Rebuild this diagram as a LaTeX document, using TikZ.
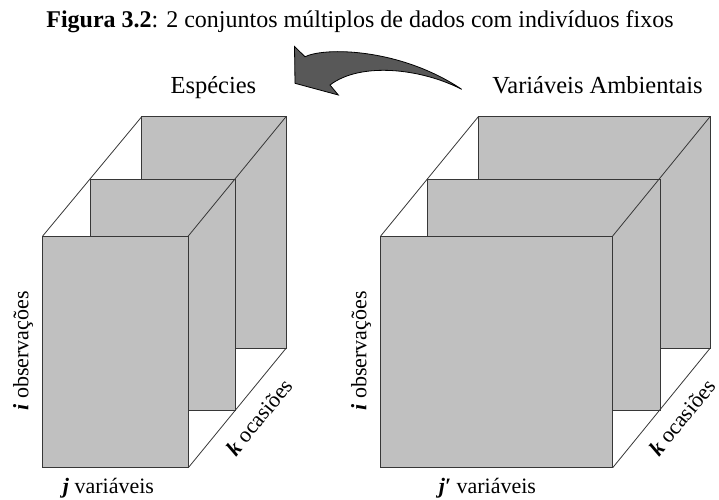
\documentclass[tikz,border=0pt]{standalone}
\usepackage{fontspec}
\setmainfont{Liberation Serif}
\definecolor{boxgray}{RGB}{192,192,192}
\definecolor{arrowgray}{RGB}{88,88,88}
\definecolor{edgegray}{RGB}{55,55,55}
\begin{document}
\begin{tikzpicture}[x=1pt,y=-1pt,
  panel/.style={fill=boxgray,draw=edgegray,line width=0.8pt},
  edge/.style={draw=edgegray,line width=0.8pt},
  lbl/.style={inner sep=0pt,font=\fontsize{22}{26}\selectfont},
  head/.style={inner sep=0pt,font=\fontsize{24.5}{28}\selectfont},
  ttl/.style={inner sep=0pt,font=\fontsize{24}{28}\selectfont},
  bigarrow/.style={fill=arrowgray,draw=black,line width=0.8pt,line join=miter}]
\useasboundingbox (0,0) rectangle (719,499);

% title
\node[ttl,anchor=base] (title) at (360,27.3) {\textbf{Figura 3.2}: 2 conjuntos múltiplos de dados com indivíduos fixos};

% headings
\node[head,anchor=base] (esp) at (213.4,93.3) {Espécies};
\node[head,anchor=base] (amb) at (597.5,93.3) {Variáveis Ambientais};

% curved arrow
\draw[bigarrow] (294.5,46.5) -- (305,56.7)
  .. controls (325,47) and (400,48) .. (461.7,89.3)
  .. controls (420,68) and (360,62) .. (330,85)
  -- (338.3,95) -- (295,83.3) -- cycle;

% left stack
\coordinate (LbTL) at (141.7,116.7); \coordinate (LbBR) at (286,348.3);
\coordinate (LmTL) at (90,179.3);    \coordinate (LmBR) at (235.3,410);
\coordinate (LfTL) at (42.7,236);    \coordinate (LfBR) at (188.3,467.7);
\draw[panel] (LbTL) rectangle (LbBR);
\draw[panel] (LmTL) rectangle (LmBR);
\draw[panel] (LfTL) rectangle (LfBR);
\draw[edge] (LfTL) -- (LbTL);
\draw[edge] (LfTL -| LfBR) -- (LbTL -| LbBR);
\draw[edge] (LfBR) -- (LbBR);

% right stack
\coordinate (RbTL) at (478.3,116.7); \coordinate (RbBR) at (710,348.3);
\coordinate (RmTL) at (427.7,179.3); \coordinate (RmBR) at (660,410);
\coordinate (RfTL) at (380.7,236);   \coordinate (RfBR) at (612.7,467.7);
\draw[panel] (RbTL) rectangle (RbBR);
\draw[panel] (RmTL) rectangle (RmBR);
\draw[panel] (RfTL) rectangle (RfBR);
\draw[edge] (RfTL) -- (RbTL);
\draw[edge] (RfTL -| RfBR) -- (RbTL -| RbBR);
\draw[edge] (RfBR) -- (RbBR);

% left labels
\node[lbl,anchor=base,rotate=90] (Lobs) at (28.3,350.8) {\textbf{\textit{i}} observações};
\node[lbl,anchor=base] (Lvar) at (108.5,493) {\textbf{\textit{j}} variáveis};
\node[lbl,anchor=base,rotate=50.7] (Locc) at (265,422) {\textbf{\textit{k}} ocasiões};

% right labels
\node[lbl,anchor=base,rotate=90] (Robs) at (366.3,350.8) {\textbf{\textit{i}} observações};
\node[lbl,anchor=base] (Rvar) at (487.4,493) {\textbf{\textit{j′}} variáveis};
\node[lbl,anchor=base,rotate=50.7] (Rocc) at (688,422.5) {\textbf{\textit{k}} ocasiões};
\end{tikzpicture}
\end{document}
